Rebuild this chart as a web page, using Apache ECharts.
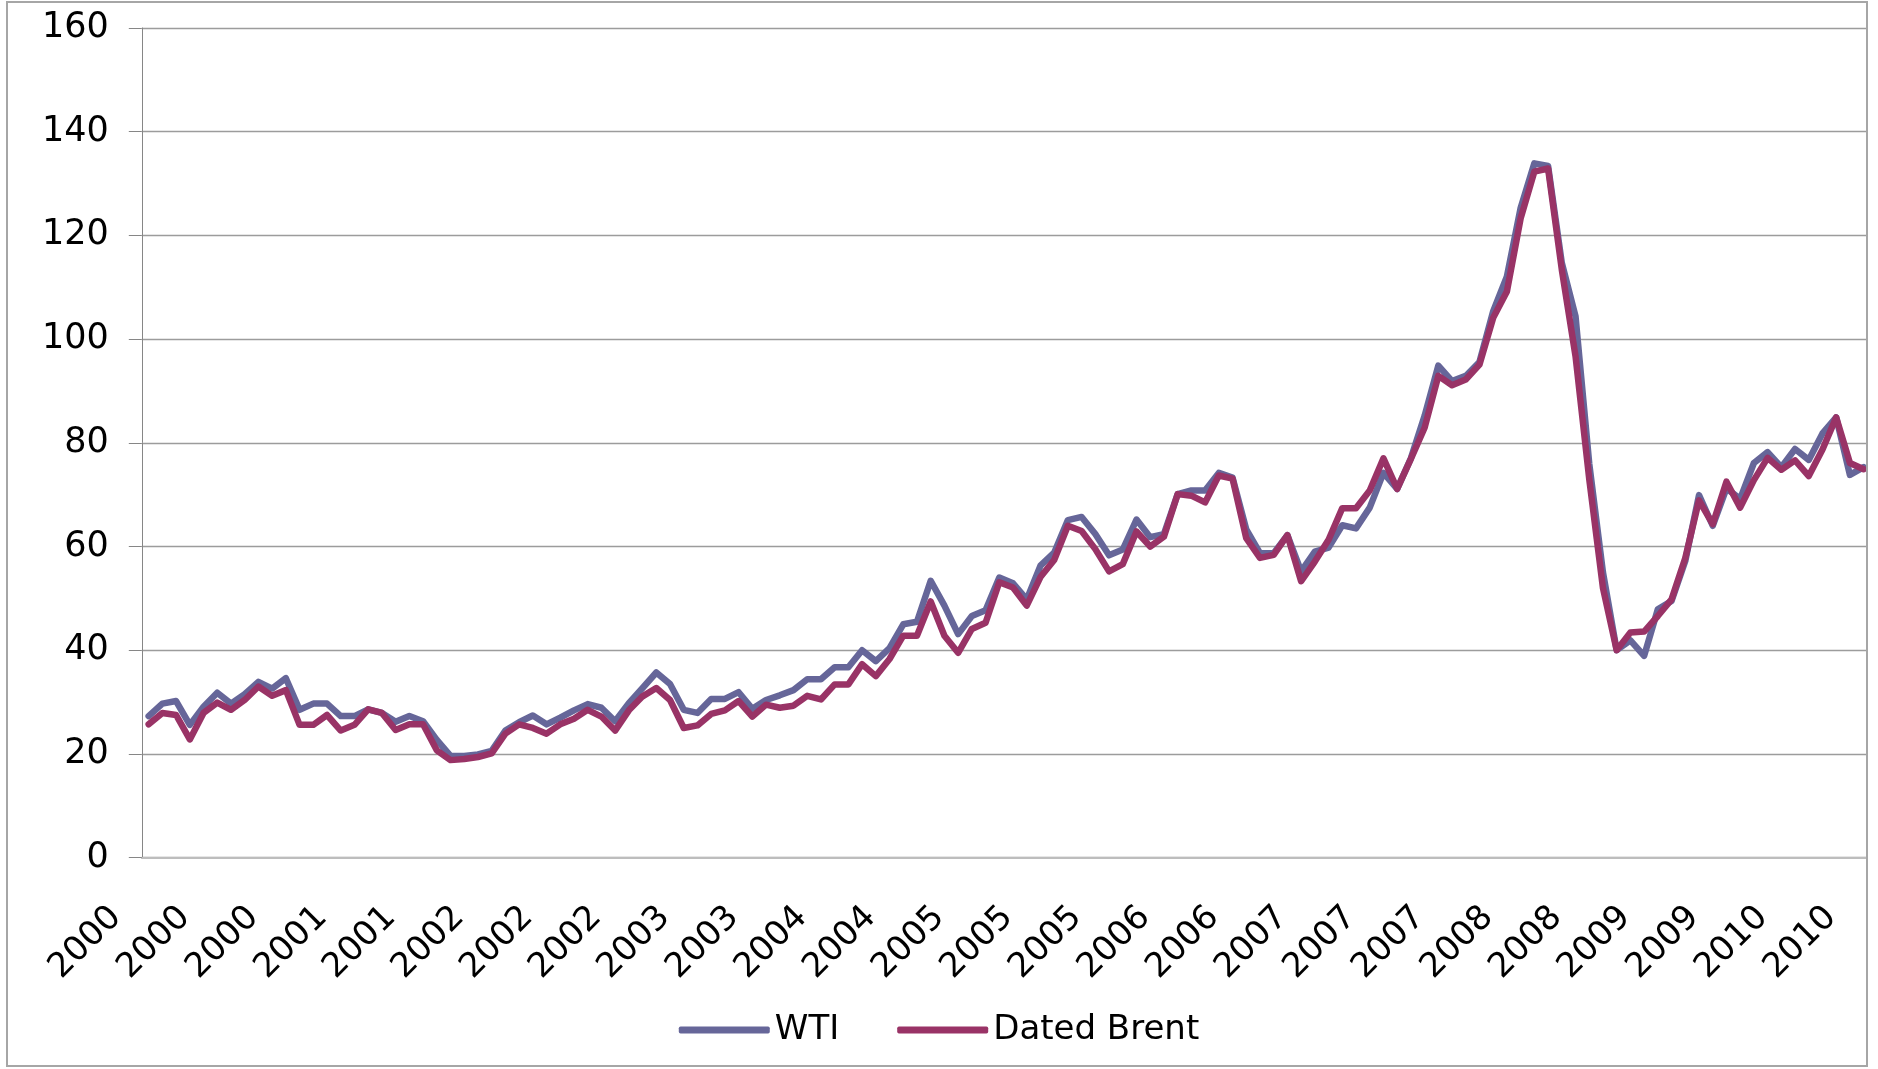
<!DOCTYPE html>
<html>
<head>
<meta charset="utf-8">
<title>WTI vs Dated Brent</title>
<script src="https://cdn.jsdelivr.net/npm/echarts@6/dist/echarts.min.js"></script>
<style>
  html, body { margin: 0; background: #fff; }
  #chart { width: 1878px; height: 1069px; }
</style>
</head>
<body>
<div id="chart"></div>
<script>
"use strict";

// Monthly categories, Jan 2000 .. Jun 2010 (labels show the year only).
const months = [];
for (let y = 2000; y <= 2010; y++) {
  for (let m = 1; m <= 12; m++) {
    if (y === 2010 && m > 6) break;
    months.push(y + "-" + String(m).padStart(2, "0"));
  }
}

// Monthly averages, USD per barrel.
const wti = [
  27.3, 29.7, 30.2, 25.6, 29.1, 31.8, 29.7, 31.5, 33.9, 32.6, 34.6, 28.5,   // 2000
  29.7, 29.7, 27.3, 27.3, 28.6, 27.9, 26.2, 27.3, 26.3, 22.7, 19.6, 19.6,   // 2001
  19.9, 20.6, 24.5, 26.1, 27.4, 25.7, 27.0, 28.4, 29.6, 28.9, 26.3, 29.8,   // 2002
  32.7, 35.7, 33.5, 28.5, 27.9, 30.6, 30.6, 31.9, 28.7, 30.4, 31.3, 32.3,   // 2003
  34.4, 34.4, 36.7, 36.7, 40.0, 37.9, 40.4, 45.0, 45.5, 53.4, 48.6, 43.1,   // 2004
  46.6, 47.7, 54.0, 52.9, 49.8, 56.3, 58.8, 65.1, 65.7, 62.4, 58.3, 59.4,   // 2005
  65.2, 61.8, 62.4, 70.1, 70.8, 70.8, 74.2, 73.3, 63.3, 58.7, 58.7, 62.2,   // 2006
  55.2, 59.0, 59.8, 64.1, 63.5, 67.5, 74.2, 71.1, 77.0, 85.2, 94.9, 91.9,   // 2007
  92.9, 95.6, 105.4, 112.1, 125.3, 133.9, 133.4, 114.7, 104.4, 76.0, 55.0, 40.0, // 2008
  41.9, 38.9, 47.9, 49.5, 57.2, 69.9, 64.0, 71.2, 69.2, 76.1, 78.2, 75.3,   // 2009
  78.8, 76.7, 81.8, 84.9, 73.8, 75.3                                        // 2010
];
const brent = [
  25.7, 27.9, 27.5, 22.8, 27.9, 29.9, 28.5, 30.4, 33.0, 31.2, 32.3, 25.6,
  25.6, 27.5, 24.5, 25.6, 28.6, 27.9, 24.6, 25.7, 25.7, 20.7, 18.8, 19.0,
  19.4, 20.1, 23.9, 25.7, 25.0, 23.9, 25.7, 26.8, 28.5, 27.2, 24.5, 28.4,
  31.1, 32.7, 30.4, 25.0, 25.5, 27.7, 28.4, 30.2, 27.2, 29.5, 28.9, 29.3,
  31.2, 30.5, 33.4, 33.4, 37.3, 35.0, 38.3, 42.8, 42.8, 49.4, 42.8, 39.5,
  44.1, 45.3, 53.1, 52.1, 48.6, 54.1, 57.4, 64.0, 63.0, 59.5, 55.2, 56.6,
  62.9, 60.0, 61.9, 70.1, 69.8, 68.5, 73.7, 73.1, 61.6, 57.8, 58.4, 62.2,
  53.3, 57.1, 61.3, 67.4, 67.4, 70.8, 77.0, 71.1, 76.9, 82.9, 92.9, 91.1,
  92.2, 95.1, 104.1, 109.2, 123.3, 132.3, 132.9, 113.4, 96.7, 73.0, 52.0, 40.0,
  43.4, 43.6, 46.6, 49.8, 57.8, 68.9, 64.3, 72.5, 67.5, 72.8, 77.1, 74.8,
  76.6, 73.6, 78.7, 84.9, 76.1, 74.9
];

const FONT = "'DejaVu Sans', Verdana, sans-serif";
const WTI_COLOR = "#666699", BRENT_COLOR = "#993366";

const chart = echarts.init(document.getElementById("chart"), null, { renderer: "canvas" });

const line = (name, data, color) => ({
  name, type: "line", data, color,
  symbol: "none",
  lineStyle: { width: 6.5, color, cap: "round", join: "round" },
  animation: false,
});

chart.setOption({
  animation: false,
  backgroundColor: "#fff",
  textStyle: { fontFamily: FONT, color: "#000" },
  grid: { left: 141.8, top: 28, right: 7.5, bottom: 211.4, containLabel: false },
  legend: {
    data: ["WTI", "Dated Brent"],
    left: "center", top: 1008,
    icon: "roundRect", itemWidth: 91, itemHeight: 7, itemGap: 58,
    textStyle: { fontFamily: FONT, fontSize: 34, color: "#000" },
  },
  xAxis: {
    type: "category",
    data: months,
    boundaryGap: true,
    axisLine: { lineStyle: { color: "#bdbdbd", width: 2 } },
    axisTick: { interval: 4, length: 13, lineStyle: { color: "#8c8c8c", width: 1 } },
    axisLabel: {
      interval: 4, rotate: 45, margin: 22, padding: [0, 46, 0, 0],
      fontFamily: FONT, fontSize: 34, color: "#000",
      formatter: (v) => v.slice(0, 4),
    },
    splitLine: { show: false },
  },
  yAxis: {
    type: "value",
    min: 0, max: 160, interval: 20,
    axisLine: { show: true, lineStyle: { color: "#868686", width: 1 } },
    axisTick: { show: true, length: 13, lineStyle: { color: "#868686" } },
    // labels sit a few px below their gridline in the original
    axisLabel: { margin: 33, padding: [11, 0, 0, 0], fontFamily: FONT, fontSize: 35, color: "#000" },
    splitLine: { lineStyle: { color: "#9c9c9c", width: 1.3 } },
  },
  series: [line("WTI", wti, WTI_COLOR), line("Dated Brent", brent, BRENT_COLOR)],
  graphic: [
    // the plot area runs past the chart border on the right: mask it, then draw the frame
    { type: "rect", z: 100, shape: { x: 1868, y: 0, width: 10, height: 1069 },
      style: { fill: "#fff" }, silent: true },
    { type: "rect", z: 101, shape: { x: 7, y: 2, width: 1860, height: 1064 },
      style: { fill: "none", stroke: "#a6a6a6", lineWidth: 2 }, silent: true },
  ],
});
</script>
</body>
</html>
